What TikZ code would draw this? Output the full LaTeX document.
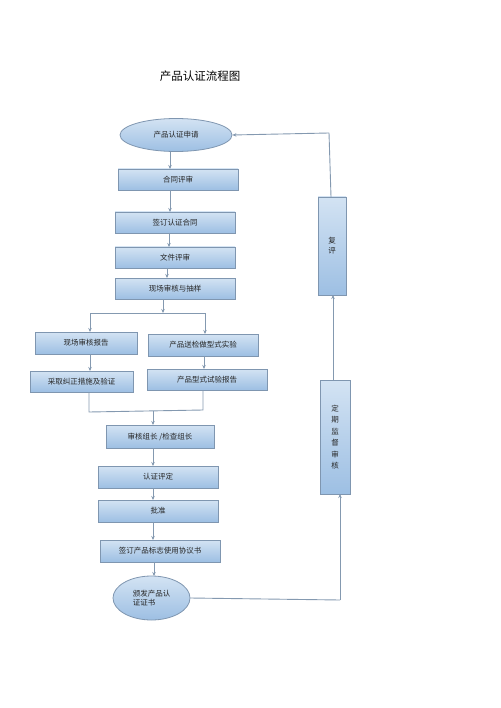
\documentclass[tikz,border=0pt]{standalone}
\usepackage{fontspec}
\newfontfamily\cjk{Noto Sans CJK SC}
\usetikzlibrary{arrows.meta,shapes.geometric}
\definecolor{bord}{HTML}{7F96B0}
\definecolor{ln}{HTML}{8499B0}
\definecolor{topc}{HTML}{D3E3F3}
\definecolor{botc}{HTML}{9DBFE3}
\begin{document}
\begin{tikzpicture}[x=1pt,y=-1pt,
  box/.style={draw=bord,line width=0.8pt,top color=topc,bottom color=botc,font=\cjk\fontsize{7.5}{9}\selectfont,text=black!85,inner sep=0pt},
  oval/.style={box,ellipse},
  con/.style={draw=ln,line width=0.9pt},
  arr/.style={con,-{Stealth[length=4pt,width=3.5pt]}}]
\useasboundingbox (0,0) rectangle (500,708);
\node[font=\cjk\fontsize{11.5}{13}\selectfont] (title) at (200,76) {产品认证流程图};
% left chain
\node[oval,minimum width=112pt,minimum height=33pt] (s) at (176,135) {产品认证申请};
\node[box,minimum width=120pt,minimum height=21pt] (b1) at (178,179.5) {合同评审};
\node[box,minimum width=120pt,minimum height=21pt] (b2) at (175,222.5) {签订认证合同};
\node[box,minimum width=120pt,minimum height=21pt] (b3) at (175,257.5) {文件评审};
\node[box,minimum width=120pt,minimum height=21pt] (b4) at (175,288.5) {现场审核与抽样};
\node[box,minimum width=102pt,minimum height=22pt] (l1) at (86,343) {现场审核报告};
\node[box,minimum width=110pt,minimum height=22pt] (r1) at (203,345) {产品送检做型式实验};
\node[box,minimum width=103pt,minimum height=21pt] (l2) at (81.5,381.5) {采取纠正措施及验证};
\node[box,minimum width=120pt,minimum height=21pt] (r2) at (207,379.5) {产品型式试验报告};
\node[box,minimum width=108pt,minimum height=23pt] (c1) at (160,436.5) {审核组长 /检查组长};
\node[box,minimum width=120pt,minimum height=22pt] (c2) at (158,477) {认证评定};
\node[box,minimum width=120pt,minimum height=22pt] (c3) at (158,511) {批准};
\node[box,minimum width=120pt,minimum height=22pt] (c4) at (160,551) {签订产品标志使用协议书};
\node[oval,minimum width=77pt,minimum height=44pt,align=left] (e) at (151.5,598) {颁发产品认\\证证书};
% right column
\node[box,minimum width=30pt,minimum height=114pt,align=center,font=\cjk\fontsize{7.5}{11.5}\selectfont] (m) at (335,437) {定\\期\\监\\督\\审\\核};
\node[box,minimum width=28pt,minimum height=98pt,align=center,font=\cjk\fontsize{7.5}{10}\selectfont] (f) at (332,246) {复\\评};
% coordinates
\coordinate (sp) at (163,313);
\coordinate (jn) at (153,411);
% connectors
\draw[arr] (170,152) -- (170,169);
\draw[arr] (170,190) -- (170,212);
\draw[arr] (169,233) -- (169,247);
\draw[arr] (167,268) -- (167,278);
\draw[arr] (163,299) -- (sp);
\draw[con] (90,313) -- (205,313);
\draw[arr] (90,313) -- (90,332);
\draw[arr] (205,313) -- (205,334);
\draw[arr] (90,354) -- (90,371);
\draw[arr] (204,356) -- (204,369);
\draw[con] (89,392) -- (89,412) -- (203,410) -- (203,390);
\draw[arr] (jn) -- (153,425);
\draw[arr] (153,448) -- (153,466);
\draw[arr] (153,488) -- (153,500);
\draw[arr] (153,522) -- (153,540);
\draw[arr] (154,562) -- (154,576);
\draw[con] (e.east) -- (340,600);
\draw[arr] (340,600) -- (340,494);
\draw[arr] (333,380) -- (333,295);
\draw[con] (331,197) -- (329,133);
\draw[arr] (329,133) -- (s.east);
\end{tikzpicture}
\end{document}
